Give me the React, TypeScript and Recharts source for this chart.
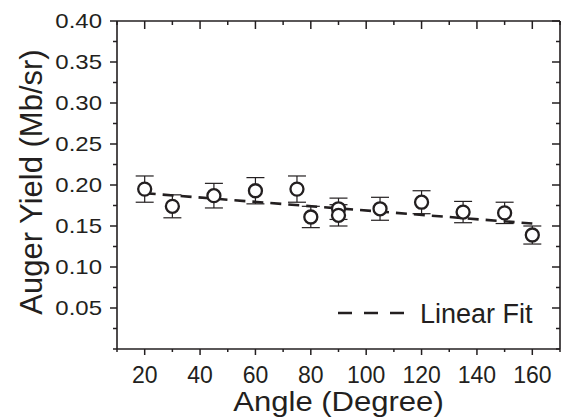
import { ComposedChart, Scatter, Line, XAxis, YAxis, ErrorBar, ReferenceLine } from 'recharts'

const INK = '#231f20'
const FONT = '"Liberation Sans", Arial, sans-serif'

// plot box size in px (chart 561x420, margins below)
const PLOT_W = 443
const PLOT_H = 328

// measured points (angle in degree, yield in Mb/sr)
const angles = [20, 30, 45, 60, 75, 80, 90, 90, 105, 120, 135, 150, 160]
const yields = [0.195, 0.174, 0.187, 0.193, 0.195, 0.161, 0.171, 0.163, 0.171, 0.179, 0.167, 0.166, 0.139]
const errors = [0.016, 0.014, 0.015, 0.016, 0.016, 0.013, 0.013, 0.013, 0.014, 0.014, 0.013, 0.013, 0.011]

// linear fit end points
const fitAngles = [20, 160]
const fitYields = [0.19, 0.153]

const xMajorTicks = [20, 40, 60, 80, 100, 120, 140, 160]
const xMinorTicks = [10, 30, 50, 70, 90, 110, 130, 150, 170]
const yMajorTicks = [0.05, 0.1, 0.15, 0.2, 0.25, 0.3, 0.35, 0.4]
const yMinorTicks = [0, 0.025, 0.075, 0.125, 0.175, 0.225, 0.275, 0.325, 0.375]

const points = angles.map((x, i) => ({ x, y: yields[i], err: errors[i] }))
const fit = fitAngles.map((x, i) => ({ x, y: fitYields[i] }))

const xTicks = [...xMajorTicks, ...xMinorTicks].sort((a, b) => a - b)
const yTicks = [...yMajorTicks, ...yMinorTicks].sort((a, b) => a - b)

// bottom tick (outward) + matching top frame tick (inward)
function BottomTick(props: any) {
  const { x, y, payload } = props
  const major = xMajorTicks.includes(payload.value)
  const top = y - PLOT_H
  return (
    <g>
      <line x1={x} x2={x} y1={y} y2={y + (major ? 6 : 3)} stroke={INK} strokeWidth={1.5} />
      <line x1={x} x2={x} y1={top} y2={top + (major ? 8 : 4)} stroke={INK} strokeWidth={1.5} />
      {major && (
        <text x={x} y={y + 34} textAnchor="middle" fontSize={23} fill={INK} fontFamily={FONT}>
          {payload.value}
        </text>
      )}
    </g>
  )
}

// left tick (outward) + matching right frame tick (inward)
function LeftTick(props: any) {
  const { x, y, payload } = props
  const major = yMajorTicks.includes(payload.value)
  const right = x + PLOT_W
  return (
    <g>
      <line x1={x} x2={x - (major ? 7 : 4)} y1={y} y2={y} stroke={INK} strokeWidth={1.5} />
      <line x1={right} x2={right - (major ? 8 : 4)} y1={y} y2={y} stroke={INK} strokeWidth={1.5} />
      {major && (
        <text
          transform={`translate(${x - 15},${y + 7}) scale(1.2,1)`}
          textAnchor="end"
          fontSize={20}
          fill={INK}
          fontFamily={FONT}
        >
          {payload.value.toFixed(2)}
        </text>
      )}
    </g>
  )
}

function XTitle(props: any) {
  const { viewBox } = props
  const cx = viewBox.x + viewBox.width / 2
  return (
    <text
      transform={`translate(${cx},${viewBox.y + 62}) scale(1.15,1)`}
      textAnchor="middle"
      fontSize={27}
      fill={INK}
      fontFamily={FONT}
    >
      Angle (Degree)
    </text>
  )
}

function YTitle(props: any) {
  const { viewBox } = props
  const cy = viewBox.y + viewBox.height / 2 - 3
  return (
    <text
      transform={`translate(42,${cy}) rotate(-90)`}
      textAnchor="middle"
      fontSize={31}
      fill={INK}
      fontFamily={FONT}
    >
      Auger Yield (Mb/sr)
    </text>
  )
}

function Ring(props: any) {
  const { cx, cy } = props
  return <circle cx={cx} cy={cy} r={6.5} fill="#fff" stroke={INK} strokeWidth={2.3} />
}

export default function App() {
  return (
    <div style={{ position: 'absolute', left: 0, top: 0, width: 561, height: 420, background: '#fff' }}>
      <ComposedChart width={561} height={420} margin={{ top: 21, right: 1, bottom: 0, left: 0 }}>
        <XAxis
          xAxisId="b"
          type="number"
          dataKey="x"
          domain={[10, 170]}
          ticks={xTicks}
          interval={0}
          height={71}
          tickSize={0}
          tickMargin={0}
          tickLine={false}
          axisLine={{ stroke: INK, strokeWidth: 1.6 }}
          tick={BottomTick}
          label={<XTitle />}
        />
        <YAxis
          yAxisId="l"
          type="number"
          domain={[0, 0.4]}
          ticks={yTicks}
          interval={0}
          width={117}
          tickSize={0}
          tickMargin={0}
          tickLine={false}
          axisLine={{ stroke: INK, strokeWidth: 1.6 }}
          tick={LeftTick}
          label={<YTitle />}
        />
        {/* top and right sides of the frame */}
        <ReferenceLine xAxisId="b" yAxisId="l" y={0.4} stroke={INK} strokeWidth={1.6} />
        <ReferenceLine xAxisId="b" yAxisId="l" x={170} stroke={INK} strokeWidth={1.6} />
        <Scatter
          data={points}
          xAxisId="b"
          yAxisId="l"
          dataKey="y"
          shape={Ring}
          isAnimationActive={false}
        >
          <ErrorBar dataKey="err" direction="y" width={9} stroke={INK} strokeWidth={1.2} />
        </Scatter>
        <Line
          data={fit}
          xAxisId="b"
          yAxisId="l"
          dataKey="y"
          type="linear"
          stroke={INK}
          strokeWidth={2.6}
          strokeDasharray="11 7"
          dot={false}
          activeDot={false}
          isAnimationActive={false}
        />
      </ComposedChart>
      <div
        style={{
          position: 'absolute',
          left: 336,
          top: 299,
          height: 30,
          display: 'flex',
          alignItems: 'center',
          fontFamily: FONT,
          fontSize: 27,
          lineHeight: '30px',
          color: INK,
        }}
      >
        <svg width={70} height={30} style={{ display: 'block' }}>
          <line x1={2} x2={68} y1={14} y2={14} stroke={INK} strokeWidth={2.6} strokeDasharray="14 12" />
        </svg>
        <span style={{ marginLeft: 14 }}>Linear Fit</span>
      </div>
    </div>
  )
}
